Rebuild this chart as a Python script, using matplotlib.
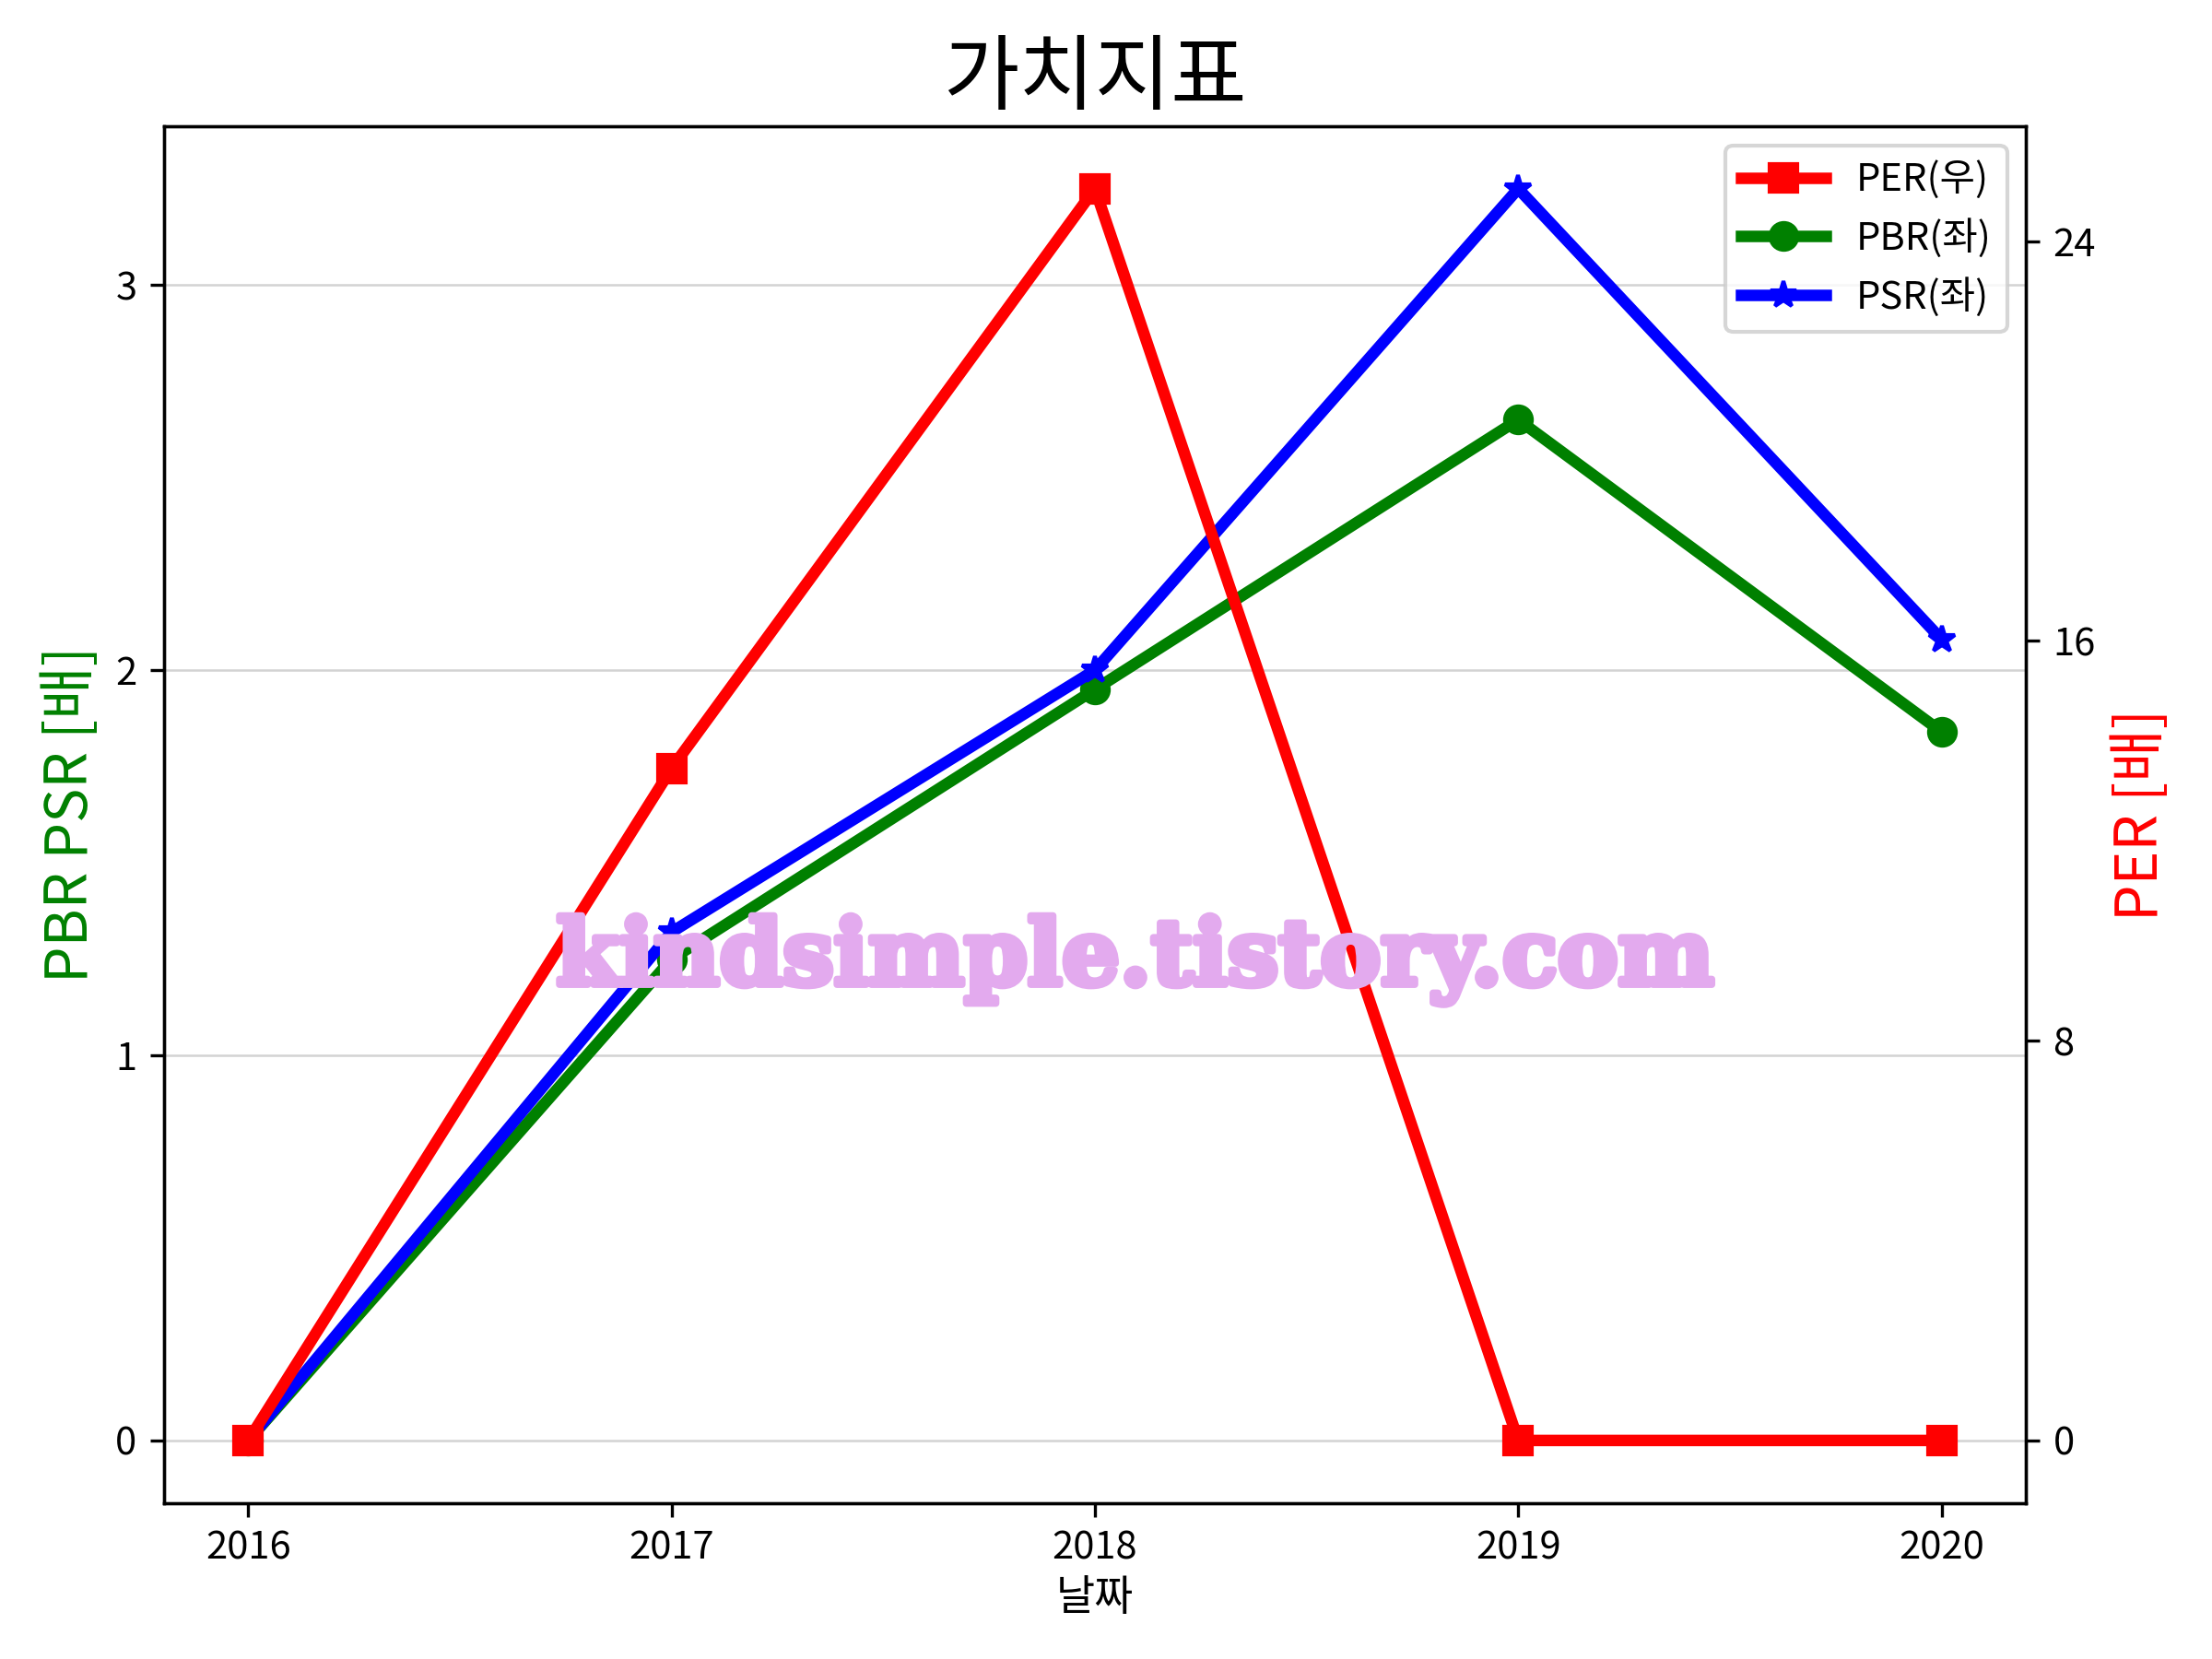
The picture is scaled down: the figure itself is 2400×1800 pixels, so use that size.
import matplotlib
matplotlib.use("Agg")
import matplotlib.pyplot as plt
import matplotlib.patheffects as pe

plt.rcParams['font.family'] = ['Noto Sans CJK KR', 'DejaVu Sans']
plt.rcParams['axes.unicode_minus'] = False

years = [2016, 2017, 2018, 2019, 2020]
per = [0, 13.45, 25.05, 0, 0]
pbr = [0, 1.25, 1.95, 2.65, 1.84]
psr = [0, 1.32, 2.00, 3.25, 2.08]

fig, ax = plt.subplots(figsize=(8, 6), dpi=300)
fig.subplots_adjust(left=0.074, right=0.916, top=0.924, bottom=0.094)
ax2 = ax.twinx()

l2, = ax.plot(years, pbr, color='green', marker='o', lw=3, ms=7, label='PBR(좌)')
l3, = ax.plot(years, psr, color='blue', marker='*', lw=3, ms=7, label='PSR(좌)')
l1, = ax2.plot(years, per, color='red', marker='s', lw=3, ms=7, label='PER(우)')

ax.set_xticks(years)
ax.set_xticklabels([str(y) for y in years])
ax.set_yticks([0, 1, 2, 3])
ax2.set_yticks([0, 8, 16, 24])
ax.grid(axis='y', color='#d3d3d3', lw=0.6)
ax.set_axisbelow(True)

ax.set_title('가치지표', fontsize=21.5)
ax.set_xlabel('날짜', fontsize=11, labelpad=2)
ax.set_ylabel('PBR PSR [배]', color='green', fontsize=15)
ax2.set_ylabel('PER [배]', color='red', fontsize=15)

ax2.legend([l1, l2, l3], ['PER(우)', 'PBR(좌)', 'PSR(좌)'], loc='upper right', fontsize=10,
           handlelength=2.2)

fig.text(0.513, 0.421, 'kindsimple.tistory.com', ha='center', va='center',
         fontsize=23.6, fontweight='bold', family='DejaVu Serif', color='#E3AAEE', zorder=10,
         path_effects=[pe.withStroke(linewidth=1.8, foreground='#E3AAEE')])

fig.savefig('out.png', dpi=300)
